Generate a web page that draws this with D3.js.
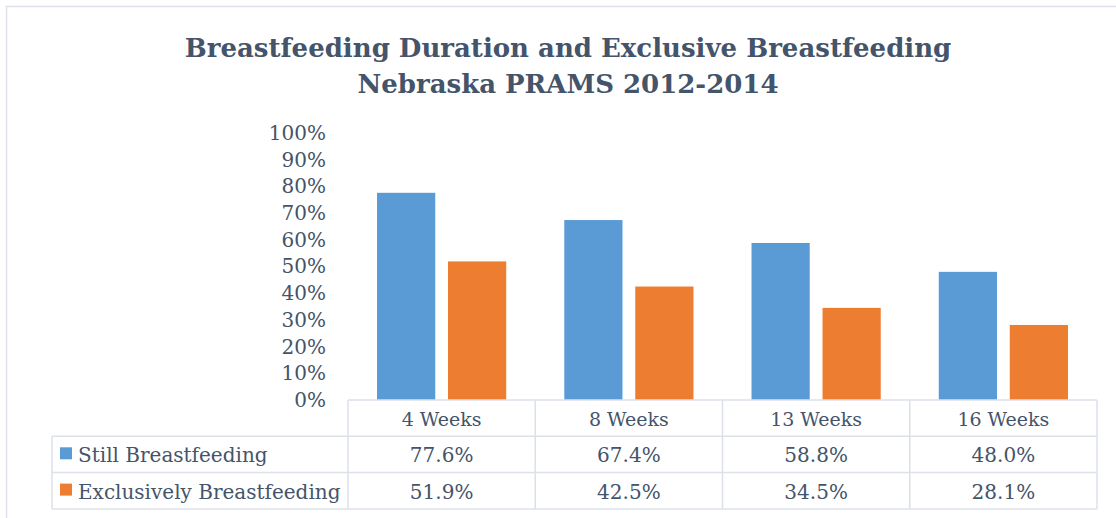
<!DOCTYPE html>
<html>
<head>
<meta charset="utf-8">
<script src="https://cdn.jsdelivr.net/npm/d3@7"></script>
<style>
  body { margin: 0; background: #fff; }
  text { font-family: 'DejaVu Serif', serif; fill: #44546A; }
</style>
</head>
<body>
<div id="chart"></div>
<script>
const categories = ['4 Weeks', '8 Weeks', '13 Weeks', '16 Weeks']
const seriesNames = ['Still Breastfeeding', 'Exclusively Breastfeeding']
const stillValues = [0.776, 0.674, 0.588, 0.480]
const exclusiveValues = [0.519, 0.425, 0.345, 0.281]
const yTicks = [0, 0.1, 0.2, 0.3, 0.4, 0.5, 0.6, 0.7, 0.8, 0.9, 1.0]
const colors = ['#5B9BD5', '#ED7D31']
const titleLines = ['Breastfeeding Duration and Exclusive Breastfeeding', 'Nebraska PRAMS 2012-2014']

const W = 1116, H = 518
const plot = { left: 348, right: 1097, top: 133, bottom: 400 }
const rowH = 36.3
const tableLeft = 52
const gridColor = '#DCE1E8'

const series = [stillValues, exclusiveValues]

const svg = d3.select('#chart').append('svg')
  .attr('width', W)
  .attr('height', H)

svg.append('rect').attr('width', W).attr('height', H).attr('fill', '#fff')

// chart frame (only top and left visible)
svg.append('path')
  .attr('d', `M6.5,${H} V6.5 H${W}`)
  .attr('fill', 'none')
  .attr('stroke', gridColor)
  .attr('stroke-width', 1.5)

// title
svg.append('g').selectAll('text')
  .data(titleLines)
  .join('text')
  .attr('x', 568)
  .attr('y', (d, i) => 57 + i * 36)
  .attr('text-anchor', 'middle')
  .style('font-size', '26px')
  .style('font-weight', 'bold')
  .text(d => d)

const y = d3.scaleLinear().domain([0, 1]).range([plot.bottom, plot.top])
const x0 = d3.scaleBand().domain(categories).range([plot.left, plot.right])
const bw = x0.bandwidth()
const x1 = d3.scaleBand().domain([0, 1])
  .range([bw * 0.155, bw * 0.845])
  .paddingInner(0.18)

// y axis labels, no line
const yAxis = d3.axisLeft(y).tickValues(yTicks).tickFormat(d3.format('.0%')).tickSize(0).tickPadding(0)
const gy = svg.append('g')
  .attr('transform', 'translate(326,0)')
  .call(yAxis)
gy.select('.domain').remove()
gy.selectAll('text')
  .attr('fill', '#44546A')
  .style('font-family', "'DejaVu Serif', serif")
  .style('font-size', '20px')

// bars
svg.append('g').selectAll('g')
  .data(categories)
  .join('g')
  .attr('transform', d => `translate(${x0(d)},0)`)
  .selectAll('rect')
  .data((d, i) => series.map((s, k) => ({ k: k, v: s[i] })))
  .join('rect')
  .attr('x', d => x1(d.k))
  .attr('width', x1.bandwidth())
  .attr('y', d => y(d.v))
  .attr('height', d => y(0) - y(d.v))
  .attr('fill', d => colors[d.k])

// data table
const table = svg.append('g')
const rowsY = [plot.bottom, plot.bottom + rowH, plot.bottom + 2 * rowH, plot.bottom + 3 * rowH]
const colX = categories.map(c => x0(c)).concat([plot.right])

table.selectAll('line.h')
  .data(rowsY)
  .join('line')
  .attr('class', 'h')
  .attr('x1', (d, i) => i === 0 ? plot.left : tableLeft)
  .attr('x2', plot.right)
  .attr('y1', d => d)
  .attr('y2', d => d)
  .attr('stroke', gridColor)
  .attr('stroke-width', 1.5)

table.selectAll('line.v')
  .data(colX)
  .join('line')
  .attr('class', 'v')
  .attr('x1', d => d).attr('x2', d => d)
  .attr('y1', rowsY[0]).attr('y2', rowsY[3])
  .attr('stroke', gridColor)
  .attr('stroke-width', 1.5)

table.append('line')
  .attr('x1', tableLeft).attr('x2', tableLeft)
  .attr('y1', rowsY[1]).attr('y2', rowsY[3])
  .attr('stroke', gridColor)
  .attr('stroke-width', 1.5)

// header
table.selectAll('text.head')
  .data(categories)
  .join('text')
  .attr('class', 'head')
  .attr('x', d => x0(d) + bw / 2)
  .attr('y', rowsY[0] + 26)
  .attr('text-anchor', 'middle')
  .style('font-size', '19px')
  .text(d => d)

// series rows
const fmt = d3.format('.1%')
series.forEach((s, k) => {
  const ry = rowsY[k + 1]
  table.append('rect')
    .attr('x', 60).attr('y', ry + 11)
    .attr('width', 12).attr('height', 12)
    .attr('fill', colors[k])
  table.append('text')
    .attr('x', 78).attr('y', ry + 26)
    .style('font-size', '20px')
    .text(seriesNames[k])
  table.selectAll('text.v' + k)
    .data(s)
    .join('text')
    .attr('class', 'v' + k)
    .attr('x', (d, i) => x0(categories[i]) + bw / 2)
    .attr('y', ry + 26)
    .attr('text-anchor', 'middle')
    .style('font-size', '20px')
    .text(d => fmt(d))
})
</script>
</body>
</html>
